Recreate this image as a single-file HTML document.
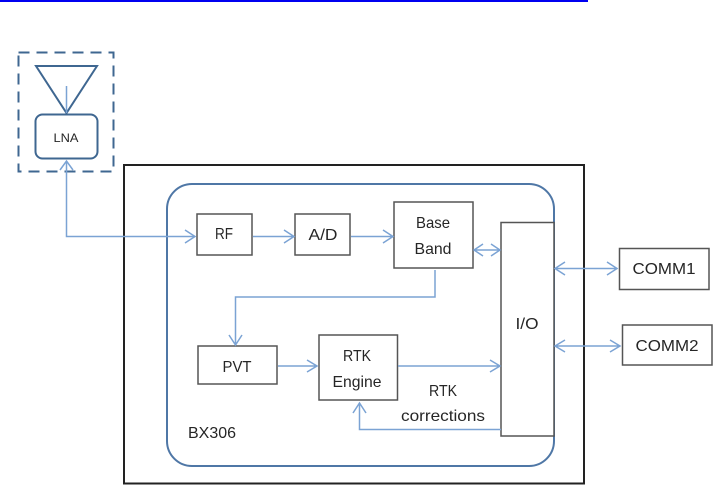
<!DOCTYPE html>
<html><head><meta charset="utf-8"><style>
html,body{margin:0;padding:0;background:#fff}
svg{display:block}
text{font-family:"Liberation Sans",sans-serif;font-size:16px;fill:#262626;text-anchor:middle}
</style></head><body>
<svg width="728" height="498" viewBox="0 0 728 498" xmlns="http://www.w3.org/2000/svg">
<g style="filter:blur(0.3px)">
<rect x="0" y="0" width="588" height="2" fill="#0000f0"/>
<rect x="124" y="165" width="460" height="318.500" fill="none" stroke="#222" stroke-width="2"/>
<rect x="167" y="184" width="387" height="282" rx="25" fill="none" stroke="#4f77a6" stroke-width="2"/>
<rect x="18.500" y="52.500" width="95" height="119" fill="none" stroke="#3f6791" stroke-width="2" stroke-dasharray="11 7"/>
<path d="M36 66H97L66.500 113Z" fill="none" stroke="#3f6791" stroke-width="2"/>
<rect x="35.500" y="114.500" width="62" height="44" rx="7" fill="none" stroke="#3f6791" stroke-width="2"/>
<g fill="#fff" stroke="#555" stroke-width="1.500">
<rect x="197" y="214" width="55" height="41"/>
<rect x="295" y="214" width="55" height="41"/>
<rect x="394" y="202" width="79" height="66"/>
<rect x="501" y="222.500" width="53" height="213.500"/>
<rect x="619.500" y="248.500" width="89.500" height="41"/>
<rect x="622.500" y="325" width="89.500" height="40"/>
<rect x="198" y="346" width="79" height="38"/>
<rect x="319" y="335" width="78.500" height="65"/>
</g>
<g fill="none" stroke="#7ba3d4" stroke-width="1.500">
<path d="M66.500 86V113"/>
<path d="M66.500 161V236.500H195"/><path d="M60 170L66.500 161L73 170M185 230L195 236.500L185 243"/>
<path d="M253 236.500H294M284 230L294 236.500L284 243"/>
<path d="M351 236.500H393M383 230L393 236.500L383 243"/>
<path d="M474 250H500M483 244L474 250L483 256M491 244L500 250L491 256"/>
<path d="M555 268.500H617M565 262L555 268.500L565 275M607 262L617 268.500L607 275"/>
<path d="M555 346H620M565 340L555 346L565 352M610 340L620 346L610 352"/>
<path d="M435 270V297H235.500V345M229 335L235.500 345L242 335"/>
<path d="M278 366H317M307 360L317 366L307 372"/>
<path d="M398 366H500M490 360L500 366L490 372"/>
<path d="M501 429.500H359.500V403M353 413L359.500 403L366 413"/>
</g>
<text x="66" y="142" style="font-size:11.500px" textLength="25" lengthAdjust="spacingAndGlyphs">LNA</text>
<text x="224" y="239" textLength="18" lengthAdjust="spacingAndGlyphs">RF</text>
<text x="323" y="240" textLength="29" lengthAdjust="spacingAndGlyphs">A/D</text>
<text x="433" y="228" textLength="34" lengthAdjust="spacingAndGlyphs">Base</text>
<text x="433" y="254" textLength="37" lengthAdjust="spacingAndGlyphs">Band</text>
<text x="527" y="329" textLength="23" lengthAdjust="spacingAndGlyphs">I/O</text>
<text x="664" y="274" textLength="63" lengthAdjust="spacingAndGlyphs">COMM1</text>
<text x="667" y="351" textLength="63" lengthAdjust="spacingAndGlyphs">COMM2</text>
<text x="237" y="372" textLength="29" lengthAdjust="spacingAndGlyphs">PVT</text>
<text x="357" y="361" textLength="28" lengthAdjust="spacingAndGlyphs">RTK</text>
<text x="357" y="387" textLength="49" lengthAdjust="spacingAndGlyphs">Engine</text>
<text x="443" y="396" textLength="28" lengthAdjust="spacingAndGlyphs">RTK</text>
<text x="443" y="421" textLength="84" lengthAdjust="spacingAndGlyphs">corrections</text>
<text x="212" y="438" textLength="48" lengthAdjust="spacingAndGlyphs">BX306</text>
</g>
</svg>
</body></html>
